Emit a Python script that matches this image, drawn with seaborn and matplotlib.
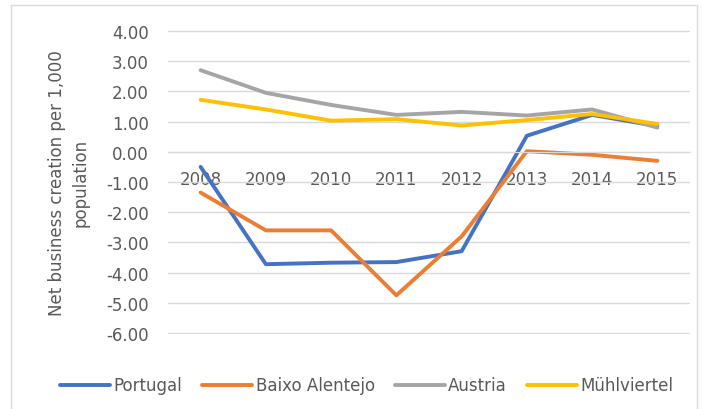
import pandas as pd
import seaborn as sns
import matplotlib.pyplot as plt
from matplotlib.patches import Rectangle

# Values
years = [2008, 2009, 2010, 2011, 2012, 2013, 2014, 2015]
portugal = [-0.50, -3.72, -3.67, -3.65, -3.29, 0.53, 1.22, 0.85]
baixo_alentejo = [-1.35, -2.60, -2.60, -4.75, -2.80, 0.02, -0.10, -0.30]
austria = [2.70, 1.95, 1.55, 1.22, 1.32, 1.20, 1.40, 0.80]
muhlviertel = [1.72, 1.40, 1.03, 1.08, 0.87, 1.05, 1.25, 0.92]

series_names = ['Portugal', 'Baixo Alentejo', 'Austria', 'Mühlviertel']
colors = ['#4472C4', '#ED7D31', '#A5A5A5', '#FFC000']

df = pd.DataFrame({
    'Year': [str(y) for y in years] * 4,
    'Value': portugal + baixo_alentejo + austria + muhlviertel,
    'Series': [s for s in series_names for _ in years],
})

sns.set_style('white')
plt.rcParams['font.family'] = ['DejaVu Sans']

fig = plt.figure(figsize=(7.02, 4.10), dpi=100)
ax = fig.add_axes([0.2393, 0.1829, 0.7436, 0.7415])

# chart border like Excel
fig.patches.append(Rectangle((0.015, -0.01), 0.978, 0.995, transform=fig.transFigure,
                             fill=False, edgecolor='#D9D9D9', linewidth=1))

sns.lineplot(data=df, x='Year', y='Value', hue='Series', palette=colors,
             linewidth=2.8, ax=ax, sort=False)

ax.set_ylim(-6.03, 4.03)
ax.set_xlim(-0.5, len(years) - 0.5)
ax.set_yticks(range(-6, 5))
ax.set_yticklabels([f'{v:.2f}' for v in range(-6, 5)])
ax.yaxis.grid(True, color='#D9D9D9', linewidth=1)
ax.set_axisbelow(True)

for s in ['top', 'right', 'left']:
    ax.spines[s].set_visible(False)
ax.spines['bottom'].set_position(('data', 0))
ax.spines['bottom'].set_color('#D9D9D9')

ax.tick_params(axis='x', length=0, pad=13, labelsize=12, labelcolor='#595959')
ax.tick_params(axis='y', length=0, pad=14, labelsize=12, labelcolor='#595959')

ax.set_xlabel('')
ax.set_ylabel('Net business creation per 1,000\npopulation', fontsize=12,
              color='#595959', labelpad=12, linespacing=1.4)

ax.legend(loc='upper center', bbox_to_anchor=(0.381, -0.09), ncol=4, frameon=False,
          fontsize=12, labelcolor='#595959', handlelength=3.0, handletextpad=0.2,
          columnspacing=1.2)

fig.savefig('out.png', dpi=100)
